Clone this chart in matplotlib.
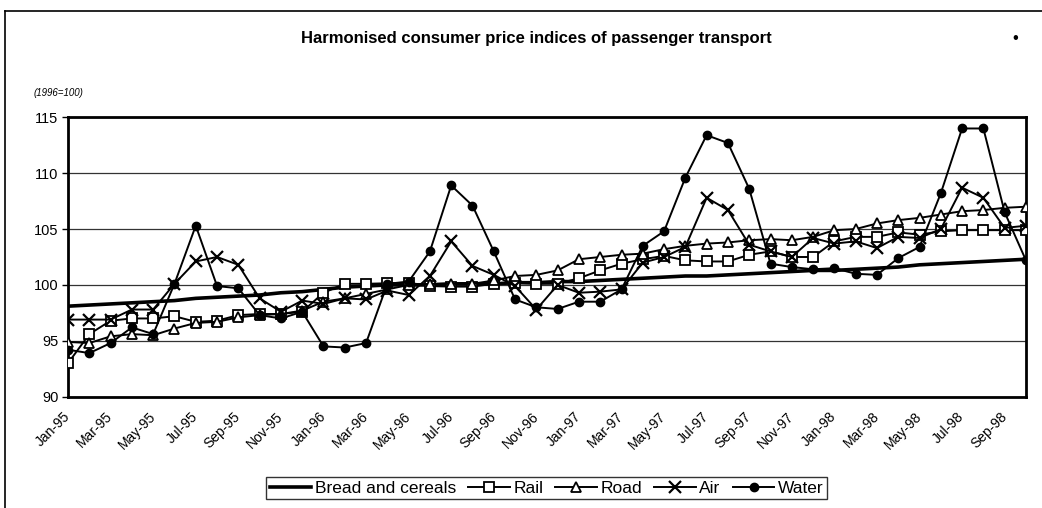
import matplotlib
matplotlib.use("Agg")
import matplotlib.pyplot as plt
from matplotlib.lines import Line2D
from matplotlib.transforms import ScaledTranslation

plt.rcParams['font.family'] = ['Liberation Sans', 'DejaVu Sans']

# monthly data, Jan-95 .. Oct-98 (1996=100)
months = ['Jan', 'Feb', 'Mar', 'Apr', 'May', 'Jun', 'Jul', 'Aug', 'Sep', 'Oct', 'Nov', 'Dec']
periods = ['%s-%d' % (m, y) for y in (95, 96, 97, 98) for m in months][:46]

bread = [98.1, 98.2, 98.3, 98.4, 98.5, 98.6, 98.8, 98.9, 99.0, 99.1, 99.3, 99.4,
         99.6, 99.8, 99.9, 100.0, 100.0, 100.0, 100.1, 100.1, 100.1, 100.2, 100.2, 100.3,
         100.3, 100.4, 100.5, 100.6, 100.7, 100.8, 100.8, 100.9, 101.0, 101.1, 101.2, 101.3,
         101.3, 101.4, 101.5, 101.6, 101.8, 101.9, 102.0, 102.1, 102.2, 102.3]
rail = [93.0, 95.6, 96.8, 97.0, 97.0, 97.2, 96.7, 96.8, 97.3, 97.4, 97.4, 97.6,
        99.3, 100.1, 100.1, 100.15, 100.2, 99.9, 99.85, 99.85, 100.1, 100.2, 100.1, 100.1,
        100.6, 101.3, 101.9, 102.3, 102.6, 102.2, 102.1, 102.1, 102.7, 103.0, 102.5, 102.5,
        103.9, 104.3, 104.3, 104.7, 104.5, 104.8, 104.9, 104.9, 104.9, 104.9]
road = [94.9, 94.8, 95.4, 95.6, 95.5, 96.1, 96.6, 96.7, 97.1, 97.3, 97.4, 97.7,
        98.5, 98.8, 99.2, 99.6, 100.0, 100.1, 100.1, 100.1, 100.4, 100.8, 100.9, 101.3,
        102.3, 102.5, 102.7, 102.8, 103.2, 103.5, 103.7, 103.8, 104.0, 104.1, 104.0, 104.3,
        104.9, 105.0, 105.5, 105.8, 106.0, 106.3, 106.6, 106.7, 106.9, 107.0]
air = [96.9, 96.9, 96.9, 97.8, 97.8, 100.1, 102.1, 102.5, 101.8, 98.8, 97.6, 98.6,
       98.3, 98.8, 98.7, 99.5, 99.1, 100.8, 103.9, 101.7, 100.9, 99.9, 97.8, 100.0,
       99.3, 99.4, 99.6, 102.0, 102.5, 103.4, 107.8, 106.7, 103.6, 103.0, 102.5, 104.2,
       103.7, 103.9, 103.3, 104.3, 104.2, 105.0, 108.7, 107.8, 105.1, 105.3]
water = [94.2, 93.9, 94.8, 96.2, 95.6, 100.1, 105.3, 99.9, 99.7, 97.3, 97.0, 97.6,
         94.5, 94.4, 94.8, 100.1, 100.3, 103.0, 108.9, 107.1, 103.0, 98.7, 98.0, 97.85,
         98.5, 98.5, 99.6, 103.5, 104.8, 109.6, 113.4, 112.7, 108.6, 101.9, 101.6, 101.4,
         101.5, 101.0, 100.9, 102.4, 103.4, 108.2, 114.0, 114.0, 106.5, 102.2]

x = list(range(len(periods)))

fig = plt.figure(figsize=(10.42, 5.08), dpi=100)
ax = fig.add_axes([0.0653, 0.2191, 0.9193, 0.55])

ax.plot(x, bread, color='black', lw=2.6, label='Bread and cereals', zorder=3)
ax.plot(x, rail, color='black', lw=1.4, marker='s', ms=7.2, mfc='white', mec='black',
        mew=1.3, label='Rail', zorder=4)
ax.plot(x, road, color='black', lw=1.4, marker='^', ms=7.5, mfc='white', mec='black',
        mew=1.3, label='Road', zorder=5)
ax.plot(x, air, color='black', lw=1.4, marker='x', ms=9, mew=1.6, label='Air', zorder=6)
ax.plot(x, water, color='black', lw=1.4, marker='o', ms=6, mfc='black', mec='black',
        label='Water', zorder=7)

ax.set_xlim(0, len(periods) - 1)
ax.set_ylim(90, 115)
ax.set_yticks([90, 95, 100, 105, 110, 115])
ax.set_xticks(x[::2])
ax.set_xticklabels(periods[::2], rotation=45, ha='right', rotation_mode='anchor', fontsize=10)
ax.tick_params(axis='y', labelsize=10.5, length=4, width=1, pad=3)
ax.tick_params(axis='x', length=0, pad=9)
shift = ScaledTranslation(-5 / 100, 0, fig.dpi_scale_trans)
for lab in ax.get_xticklabels():
    lab.set_transform(lab.get_transform() + shift)
ax.grid(axis='y', color='#333333', lw=0.9)
ax.set_axisbelow(True)
for s in ax.spines.values():
    s.set_linewidth(2)

fig.text(0.515, 0.925, 'Harmonised consumer price indices of passenger transport',
         ha='center', va='center', fontsize=12, fontweight='bold')
fig.text(0.974, 0.925, '\u2022', ha='center', va='center', fontsize=12)
fig.text(0.032, 0.817, '(1996=100)', ha='left', va='center', fontsize=7, style='italic')

# outer chart frame
fig.add_artist(Line2D([0.005, 1.0], [0.978, 0.978], color='black', lw=1.2))
fig.add_artist(Line2D([0.005, 0.005], [0.0, 0.978], color='black', lw=1.2))

leg = fig.legend(loc='center', bbox_to_anchor=(0.5245, 0.039), ncol=5, fontsize=12.5,
                 frameon=True, fancybox=False, handlelength=2.4, handletextpad=0.2,
                 columnspacing=0.7, borderpad=0.2, borderaxespad=0)
leg.get_frame().set_edgecolor('black')
leg.get_frame().set_linewidth(1)

fig.savefig('out.png', dpi=100)
